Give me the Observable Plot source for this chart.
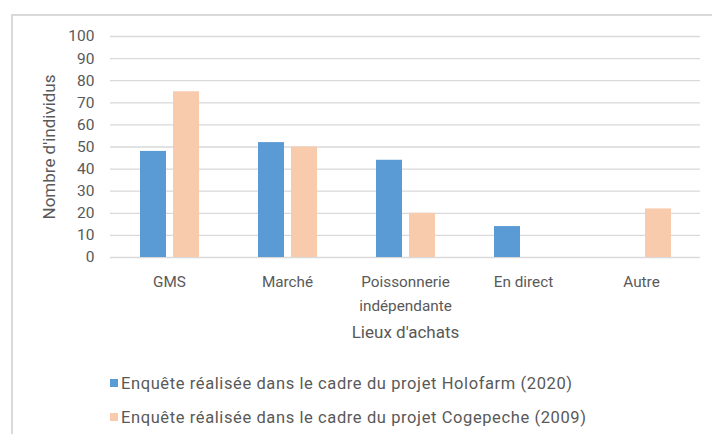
<!DOCTYPE html>
<html><head><meta charset="utf-8">
<script src="https://cdn.jsdelivr.net/npm/d3@7"></script>
<script src="https://cdn.jsdelivr.net/npm/@observablehq/plot@0.6"></script>
<style>
html,body{margin:0;padding:0;background:#fff;width:712px;height:434px;overflow:hidden;}
#wrap{position:relative;width:712px;height:434px;font-family:Roboto,sans-serif;}
#frame{position:absolute;left:11px;top:14px;width:720px;height:440px;border-left:2px solid #d9d9d9;border-top:2px solid #d9d9d9;}
#chart{position:absolute;left:0;top:0;}
#legend{position:absolute;left:110px;top:366px;color:#595959;font-size:16.5px;letter-spacing:0.6px;}
.row{display:flex;align-items:center;height:34px;white-space:nowrap;}
.sw{width:8px;height:8px;margin-right:3px;flex:none;}
</style></head><body><div id="wrap"><div id="frame"></div><div id="chart"></div><div id="legend"></div></div>
<script>
const categories = ["GMS", "Marché", "Poissonnerie\nindépendante", "En direct", "Autre"];
const series = ["Enquête réalisée dans le cadre du projet Holofarm (2020)", "Enquête réalisée dans le cadre du projet Cogepeche (2009)"];
const holofarm = [48, 52, 44, 14, 0];
const cogepeche = [75, 50, 20, 0, 22];
const colors = ["#5B9BD5", "#F8CBAD"];
const yTicks = [0, 10, 20, 30, 40, 50, 60, 70, 80, 90, 100];
const xTitle = "Lieux d'achats";
const yTitle = "Nombre d'individus";

const data = [];
categories.forEach((c, i) => {
  data.push({cat: c, series: series[0], value: holofarm[i]});
  data.push({cat: c, series: series[1], value: cogepeche[i]});
});

const chart = Plot.plot({
  width: 712, height: 345,
  marginLeft: 108, marginRight: 10, marginTop: 36, marginBottom: 88,
  style: {fontFamily: "Roboto, sans-serif", fontSize: "15px", color: "#595959", background: "transparent", overflow: "visible"},
  fx: {domain: categories, padding: 0, label: null, axis: null},
  x: {domain: series, paddingInner: 0.22, paddingOuter: 0.85, axis: null},
  y: {domain: [0, 100]},
  color: {domain: series, range: colors},
  marks: [
    Plot.gridY(yTicks, {stroke: "#d9d9d9", strokeOpacity: 1, strokeWidth: 1.3}),
    Plot.axisY(yTicks, {tickSize: 0, tickPadding: 16, label: null, fontSize: 15.5}),
    Plot.axisY([], {tickSize: 0, label: yTitle, labelAnchor: "center", labelArrow: "none", labelOffset: 68, fontSize: 17}),
    Plot.axisFx({anchor: "bottom", tickSize: 0, tickPadding: 13, lineHeight: 1.53, label: null, fontSize: 15.3}),
    Plot.axisFx({anchor: "bottom", ticks: [], tickSize: 0, label: xTitle, labelAnchor: "center", labelArrow: "none", labelOffset: 80, fontSize: 17}),
    Plot.barY(data.filter(d => d.value > 0), {fx: "cat", x: "series", y: "value", fill: "series"})
  ]
});
document.getElementById("chart").appendChild(chart);

const legend = document.getElementById("legend");
series.forEach((s, i) => {
  const row = document.createElement("div");
  row.className = "row";
  const sw = document.createElement("span");
  sw.className = "sw";
  sw.style.background = colors[i];
  const t = document.createElement("span");
  t.textContent = s;
  row.appendChild(sw); row.appendChild(t);
  legend.appendChild(row);
});
</script></body></html>
